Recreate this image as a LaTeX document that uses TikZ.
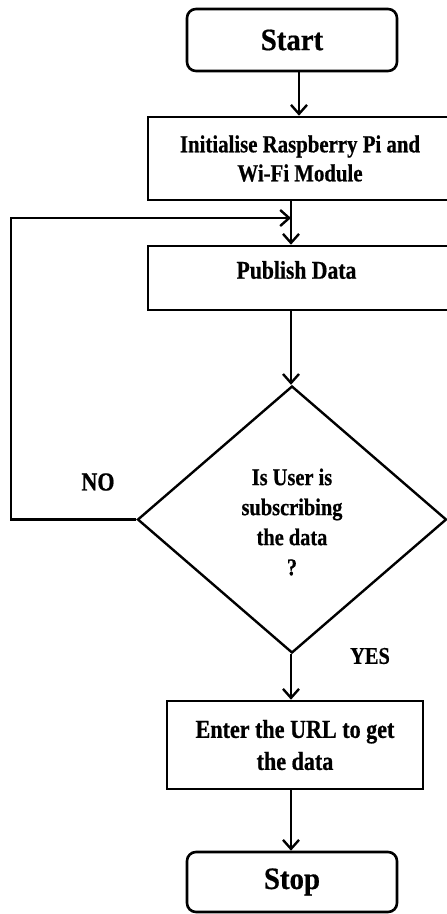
\documentclass[tikz,border=0pt]{standalone}
\usepackage{fontspec}
\newfontfamily\flowfont[FakeStretch=0.85,FakeBold=0.6]{Liberation Serif}
\newfontfamily\termfont[FakeStretch=0.93,FakeBold=0.6]{Liberation Serif}
\usetikzlibrary{shapes.geometric,arrows.meta}
\begin{document}
\begin{tikzpicture}[x=1pt,y=-1pt,
  every node/.style={font=\flowfont\bfseries},
  term/.style={draw,line width=2.6pt,rounded corners=9pt,inner sep=0pt},
  proc/.style={draw,line width=2.6pt,inner sep=0pt,align=center},
  dec/.style={draw,line width=2.4pt,diamond,inner sep=0pt,align=center},
  arr/.style={line width=2.4pt,-{Straight Barb[length=9pt,width=16pt,line width=2.4pt]}},
  lbl/.style={inner sep=0pt}]
\useasboundingbox (0,0) rectangle (447,914);
\clip (0,0) rectangle (447,914);
% nodes
\node[term,minimum width=210pt,minimum height=62pt,font=\termfont\bfseries\fontsize{31}{36}\selectfont] (start) at (292,40) {Start};
\node[proc,minimum width=304pt,minimum height=83pt,font=\flowfont\bfseries\fontsize{24.5}{29}\selectfont] (init) at (300,158.5) {Initialise Raspberry Pi and\\Wi-Fi Module};
\node[proc,minimum width=304pt,minimum height=64pt] (pub) at (300,278) {};
\node[lbl,font=\flowfont\bfseries\fontsize{25.5}{30}\selectfont] (pubtxt) at (296.5,270) {Publish Data};
\node[dec,minimum width=309pt,minimum height=267pt] (dec) at (292,519.5) {};
\node[lbl,align=center,font=\flowfont\bfseries\fontsize{24}{30}\selectfont] (dectxt) at (292,522) {Is User is\\subscribing\\the data\\?};
\node[proc,minimum width=256pt,minimum height=88pt,font=\flowfont\bfseries\fontsize{26}{32}\selectfont] (enter) at (295,745) {Enter the URL to get\\the data};
\node[term,minimum width=210pt,minimum height=60pt,font=\termfont\bfseries\fontsize{31}{36}\selectfont] (stop) at (292,882) {Stop};
\node[lbl,font=\flowfont\bfseries\fontsize{26}{30}\selectfont] (no) at (98,482) {NO};
\node[lbl,font=\flowfont\bfseries\fontsize{24}{30}\selectfont] (yes) at (370,656) {YES};
% helper coordinates
\coordinate (ax) at (299,0);
\coordinate (mx) at (291,0);
\coordinate (lx) at (11,0);
\coordinate (ly) at (0,218);
% connectors
\draw[arr] (start.south -| ax) -- (init.north -| ax);
\draw[arr] (init.south -| mx) -- (pub.north -| mx);
\draw[arr] (pub.south -| mx) -- (dec.north -| mx);
\draw[arr] (dec.west) -- (dec.west -| lx) -- (lx |- ly) -- (mx |- ly);
\draw[arr] (dec.south -| mx) -- (enter.north -| mx);
\draw[arr] (enter.south -| mx) -- (stop.north -| mx);
\end{tikzpicture}
\end{document}
